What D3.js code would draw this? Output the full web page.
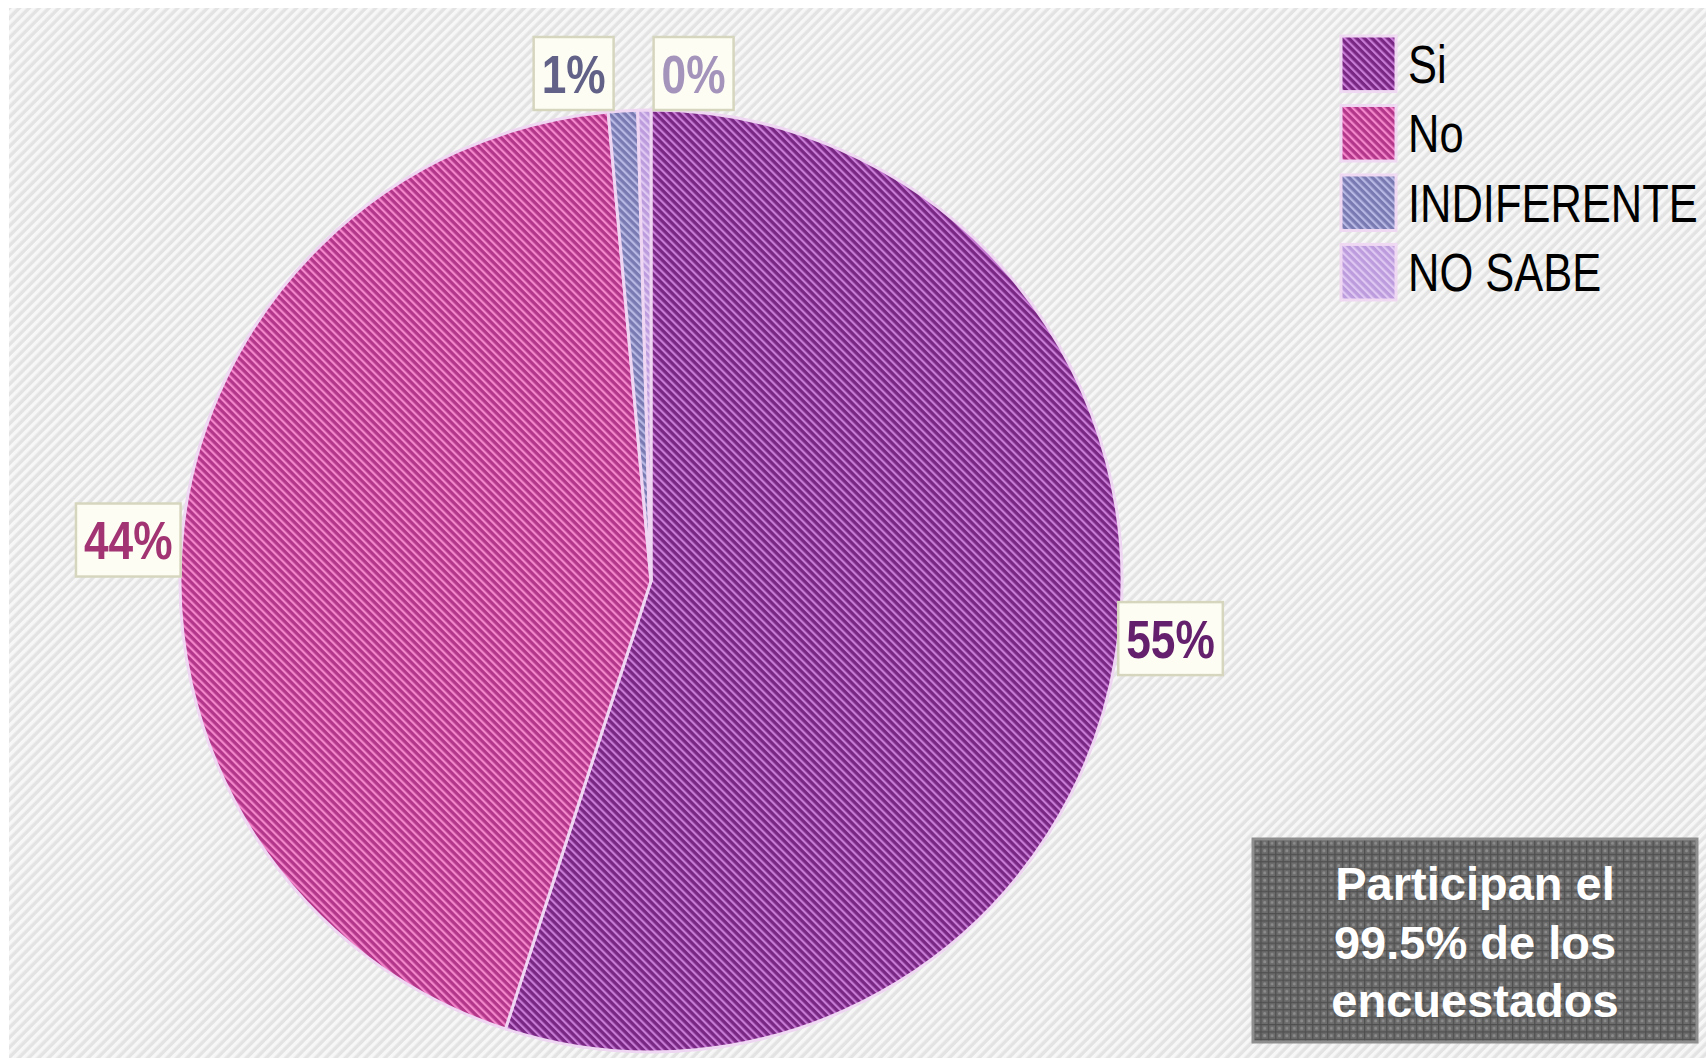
<!DOCTYPE html>
<html>
<head>
<meta charset="utf-8">
<script src="https://cdn.jsdelivr.net/npm/d3@7"></script>
<style>
  html, body { margin: 0; padding: 0; background: #ffffff; }
  svg { display: block; }
</style>
</head>
<body>
<svg id="chart" width="1706" height="1058"></svg>
<script>
// Survey answers and their shares of respondents
const categories = ["Si", "No", "INDIFERENTE", "NO SABE"];
const shares = [0.550, 0.4355, 0.010, 0.0045];

// Two-tone hatch colours per answer (dark band, light band) and label ink
const hatchDark  = ["#782783", "#b2378a", "#7a7ab2", "#bd9cdd"];
const hatchLight = ["#c87cd6", "#f486cb", "#b8b8e4", "#dfc8f2"];
const labelInk   = ["#64206c", "#a23473", "#626288", "#a494bc"];

// Note shown in the lower-right box
const noteLines = ["Participan el", "99.5% de los", "encuestados"];

const W = 1706, H = 1058;
const NARROW = 0.82;   // horizontal squeeze that turns Liberation Sans into a narrow face
const svg = d3.select("#chart");
const defs = svg.append("defs");

// Light diagonal striping for the chart area
const bgPat = defs.append("pattern")
  .attr("id", "bgStripe").attr("patternUnits", "userSpaceOnUse")
  .attr("width", 7).attr("height", 7)
  .attr("patternTransform", "rotate(45)");
bgPat.append("rect").attr("width", 7).attr("height", 7).attr("fill", "#e3e3e3");
bgPat.append("rect").attr("width", 3.5).attr("height", 7).attr("fill", "#f7f7f7");

// Hatch pattern for each slice
categories.forEach((c, i) => {
  const p = defs.append("pattern")
    .attr("id", "hatch" + i).attr("patternUnits", "userSpaceOnUse")
    .attr("width", 5.5).attr("height", 5.5)
    .attr("patternTransform", "rotate(-45)");
  p.append("rect").attr("width", 5.5).attr("height", 5.5).attr("fill", hatchDark[i]);
  p.append("rect").attr("width", 2.2).attr("height", 5.5).attr("fill", hatchLight[i]);
});

// Fine grid texture for the note box
const gridPat = defs.append("pattern")
  .attr("id", "gridTex").attr("patternUnits", "userSpaceOnUse")
  .attr("width", 7.4).attr("height", 7.4);
gridPat.append("rect").attr("width", 7.4).attr("height", 7.4).attr("fill", "#6c6c6c");
gridPat.append("rect").attr("width", 7.4).attr("height", 1.2).attr("fill", "#4f4f4f");
gridPat.append("rect").attr("width", 1.2).attr("height", 7.4).attr("fill", "#4f4f4f");
gridPat.append("circle").attr("cx", 4.3).attr("cy", 4.3).attr("r", 1.5).attr("fill", "#8c8c8c");

// Chart area background
svg.append("rect")
  .attr("x", 9).attr("y", 8).attr("width", W - 9).attr("height", H - 8)
  .attr("fill", "url(#bgStripe)");

// Pie
const cx = 651, cy = 581, R = 471;
const pie = d3.pie().sort(null).value(d => d);
const arcs = pie(shares);
const arcGen = d3.arc().innerRadius(0).outerRadius(R);

const g = svg.append("g").attr("transform", `translate(${cx},${cy})`);
g.selectAll("path.slice")
  .data(arcs)
  .join("path")
  .attr("class", "slice")
  .attr("d", arcGen)
  .attr("fill", (d, i) => `url(#hatch${i})`)
  .attr("stroke", "#efd6f2")
  .attr("stroke-width", 3)
  .attr("stroke-linejoin", "round");

// Narrow text helper: draws text at (x, y) squeezed horizontally
function narrowText(sel, x, y, anchor) {
  return sel.append("text")
    .attr("transform", `translate(${x},${y}) scale(${NARROW},1)`)
    .attr("text-anchor", anchor)
    .attr("font-family", "'Liberation Sans', Arial, sans-serif");
}

// Data labels
const fmt = d3.format(".0%");
const labelLayer = svg.append("g");

const boxes = arcs.map((a, i) => {
  const mid = (a.startAngle + a.endAngle) / 2;
  return { i, mid, text: fmt(shares[i]) };
});

// Measure texts first
boxes.forEach(b => {
  const t = narrowText(labelLayer, 0, 0, "start")
    .attr("font-weight", "bold").attr("font-size", 54).text(b.text);
  b.w = t.node().getBBox().width * NARROW + 16;
  b.h = 73;
  t.remove();
});

// Side labels sit on an elliptical orbit outside the rim; top labels rest on the rim
const topBoxes = [];
boxes.forEach(b => {
  const s = Math.sin(b.mid), c = Math.cos(b.mid);
  if (Math.abs(c) > 0.9) {
    b.ax = cx + R * s;
    b.y = cy - R - b.h;
    topBoxes.push(b);
  } else {
    const rr = R + 55;
    b.x = cx + rr * s - b.w / 2;
    b.y = cy - rr * c * 0.7 - b.h / 2;
  }
});
// Spread the top labels apart so they don't overlap
if (topBoxes.length) {
  const gap = 40;
  const total = d3.sum(topBoxes, b => b.w) + gap * (topBoxes.length - 1);
  let x0 = d3.mean(topBoxes, b => b.ax) - total / 2;
  topBoxes.sort((p, q) => p.ax - q.ax).forEach(b => { b.x = x0; x0 += b.w + gap; });
}

boxes.forEach(b => {
  labelLayer.append("rect")
    .attr("x", b.x).attr("y", b.y).attr("width", b.w).attr("height", b.h)
    .attr("fill", "#fdfdf3").attr("stroke", "#d6d6bf").attr("stroke-width", 2.5);
  narrowText(labelLayer, b.x + b.w / 2, b.y + b.h / 2 + 19, "middle")
    .attr("font-weight", "bold")
    .attr("font-size", 54).attr("fill", labelInk[b.i])
    .text(b.text);
});

// Legend
const legendY = d3.scaleBand().domain(categories).range([36, 300]).paddingInner(0.2).paddingOuter(0);
const legend = svg.append("g").attr("transform", "translate(1341,0)");
const items = legend.selectAll("g").data(categories).join("g")
  .attr("transform", d => `translate(0,${legendY(d)})`);
items.append("rect")
  .attr("width", 55).attr("height", legendY.bandwidth())
  .attr("fill", (d, i) => `url(#hatch${i})`)
  .attr("stroke", "#efd8f2").attr("stroke-width", 3);
items.each(function (d) {
  narrowText(d3.select(this), 67, legendY.bandwidth() / 2 + 19, "start")
    .attr("font-size", 53).attr("fill", "#000")
    .text(d);
});

// Note box
const note = svg.append("g").attr("transform", "translate(1253,839)");
note.append("rect")
  .attr("width", 444).attr("height", 203)
  .attr("fill", "url(#gridTex)")
  .attr("stroke", "#8e8e8e").attr("stroke-width", 3);
note.selectAll("text").data(noteLines).join("text")
  .attr("x", 222).attr("y", (d, i) => 61 + i * 58.5)
  .attr("text-anchor", "middle")
  .attr("font-family", "'Liberation Sans', Arial, sans-serif")
  .attr("font-weight", "bold").attr("font-size", 47)
  .attr("fill", "#ffffff")
  .text(d => d);
</script>
</body>
</html>
